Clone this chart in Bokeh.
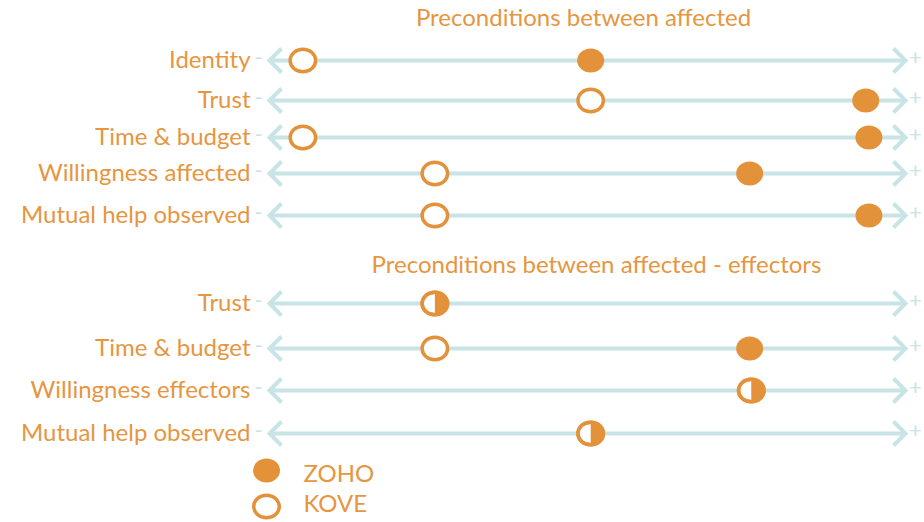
import math
from bokeh.plotting import figure
from bokeh.models import Range1d
from bokeh.core.properties import value
from bokeh.embed import file_html
from bokeh.resources import INLINE

# ---------------- data ----------------
section_titles = ["Preconditions between affected",
                  "Preconditions between affected - effectors"]
labels_1 = ["Identity", "Trust", "Time & budget", "Willingness affected",
            "Mutual help observed"]
zoho_1 = [0.02, 1.75, 1.77, 1.02, 1.77]
kove_1 = [-1.79, 0.02, -1.79, -0.96, -0.96]
labels_2 = ["Trust", "Time & budget", "Willingness effectors",
            "Mutual help observed"]
zoho_2 = [-0.96, 1.02, 1.03, 0.02]
kove_2 = [-0.96, -0.96, 1.03, 0.02]
series_names = ["ZOHO", "KOVE"]
scale_min, scale_max = -2, 2

# ---------------- layout / style ----------------
W, H = 924, 522
ORIGIN = 0                               # page offset of the figure
ZERO_PX, UNIT_PX = 587.0, 159.0          # page pixel of 0 and pixels per unit
def px_to_x(px):
    return (px - ZERO_PX) / UNIT_PX

TXT_SHIFT = -10                          # svg text baseline correction
rows_y_1 = [60, 100, 137, 173, 215]
rows_y_2 = [303, 348, 390, 433]
title_y = [26, 273]
title_px = [583, 596]
legend_y = [470, 506]
legend_text_y = [482, 512]

ORANGE = "#E3923A"
TEXT_ORANGE = "#E6963F"
BLUE = "#C8E4E6"
FONT = value("Lato")
FS = "24px"

p = figure(width=W, height=H, output_backend="svg", toolbar_location=None,
           x_range=Range1d(px_to_x(ORIGIN), px_to_x(ORIGIN + W)),
           y_range=Range1d(ORIGIN + H, ORIGIN), min_border=0,
           x_axis_type=None, y_axis_type=None)
p.outline_line_color = None
p.grid.visible = False
p.background_fill_color = "white"
p.border_fill_color = "white"

labels = labels_1 + labels_2
zoho = zoho_1 + zoho_2
kove = kove_1 + kove_2
rows_y = rows_y_1 + rows_y_2

# arrows
p.segment(x0=[scale_min] * len(rows_y), y0=rows_y,
          x1=[scale_max] * len(rows_y), y1=rows_y,
          line_color=BLUE, line_width=4)
hl = 12 / UNIT_PX   # arrow head length in data units
hh = 12             # arrow head half height in px (y is px)
xs, ys = [], []
for y in rows_y:
    xs.append([scale_min + hl, scale_min, scale_min + hl]); ys.append([y - hh, y, y + hh])
    xs.append([scale_max - hl, scale_max, scale_max - hl]); ys.append([y - hh, y, y + hh])
p.multi_line(xs=xs, ys=ys, line_color=BLUE, line_width=4, line_join="miter")

# minus / plus signs
p.text(x=[px_to_x(258)] * len(rows_y), y=[y + 7 + TXT_SHIFT for y in rows_y],
       text=["-"] * len(rows_y),
       text_color=BLUE, text_font=FONT, text_font_size="22px",
       text_align="center", text_baseline="alphabetic")
p.text(x=[px_to_x(915)] * len(rows_y), y=[y + 7 + TXT_SHIFT for y in rows_y],
       text=["+"] * len(rows_y),
       text_color=BLUE, text_font=FONT, text_font_size="22px",
       text_align="center", text_baseline="alphabetic")

# row labels
p.text(x=[px_to_x(250)] * len(labels), y=[y + 8 + TXT_SHIFT for y in rows_y], text=labels,
       text_color=TEXT_ORANGE, text_font=FONT, text_font_size=FS,
       text_align="right", text_baseline="alphabetic")

# section titles
p.text(x=[px_to_x(v) for v in title_px], y=[v + TXT_SHIFT for v in title_y],
       text=section_titles,
       text_color=TEXT_ORANGE, text_font=FONT, text_font_size=FS,
       text_align="center", text_baseline="alphabetic")

# markers
diff = [i for i in range(len(rows_y)) if zoho[i] != kove[i]]
same = [i for i in range(len(rows_y)) if zoho[i] == kove[i]]
MW, MH = 27, 24

p.ellipse(x=[zoho[i] for i in diff], y=[rows_y[i] for i in diff],
          width=MW, height=MH, width_units="screen", height_units="screen",
          fill_color=ORANGE, line_color=None)
p.ellipse(x=[kove[i] for i in diff], y=[rows_y[i] for i in diff],
          width=MW - 1.5, height=MH - 1.5, width_units="screen", height_units="screen",
          fill_color="white", line_color=ORANGE, line_width=3.5)
# both at same value: half filled
sx = [zoho[i] for i in same]
sy = [rows_y[i] for i in same]
p.ellipse(x=sx, y=sy, width=MW - 1.5, height=MH - 1.5, width_units="screen",
          height_units="screen", fill_color="white", line_color=ORANGE, line_width=3.5)
p.wedge(x=sx, y=sy, radius=12, radius_units="screen",
        start_angle=-math.pi / 2, end_angle=math.pi / 2, direction="anticlock",
        fill_color=ORANGE, line_color=None)
p.ellipse(x=sx, y=sy, width=MW - 1.5, height=MH - 1.5, width_units="screen",
          height_units="screen", fill_color=None, line_color=ORANGE, line_width=3.5)

# legend
lx = px_to_x(266)
p.ellipse(x=[lx], y=[legend_y[0]], width=MW, height=MH, width_units="screen",
          height_units="screen", fill_color=ORANGE, line_color=None)
p.ellipse(x=[lx], y=[legend_y[1]], width=MW - 1.5, height=MH - 1.5, width_units="screen",
          height_units="screen", fill_color="white", line_color=ORANGE, line_width=3.5)
p.text(x=[px_to_x(303)] * 2, y=[v + TXT_SHIFT for v in legend_text_y], text=series_names,
       text_color=TEXT_ORANGE, text_font=FONT, text_font_size=FS,
       text_align="left", text_baseline="alphabetic")

open("out.html", "w").write(file_html(p, INLINE))
